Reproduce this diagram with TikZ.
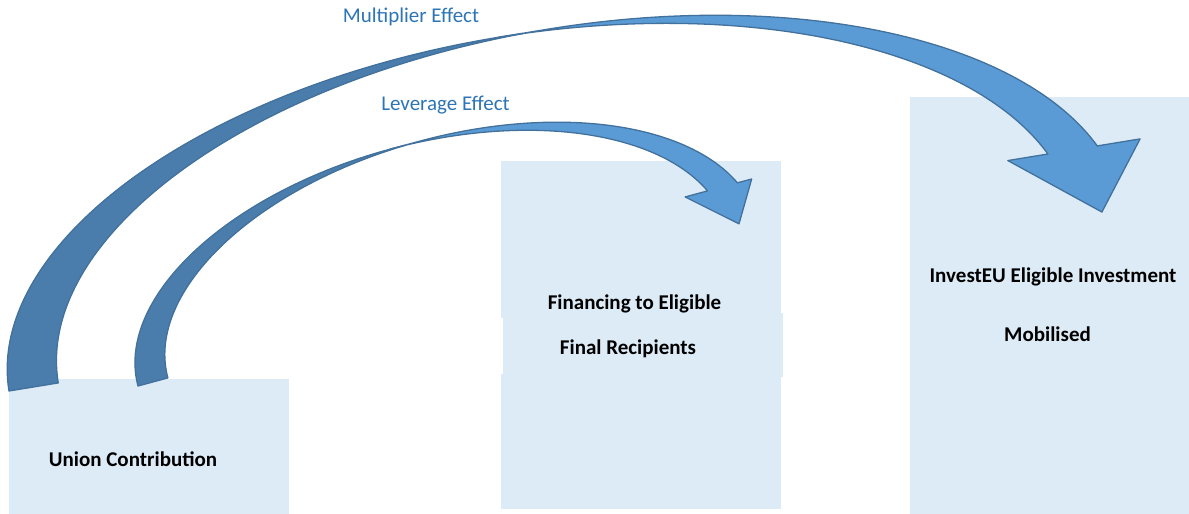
\documentclass[tikz,border=0pt]{standalone}
\usepackage{fontspec}
\setmainfont{Carlito}
\definecolor{boxfill}{HTML}{DDEBF7}
\definecolor{arrowfront}{HTML}{5B9BD5}
\definecolor{arrowback}{HTML}{4A7DAB}
\definecolor{arrowline}{HTML}{41719C}
\definecolor{labelblue}{HTML}{2E75B6}
\begin{document}
\begin{tikzpicture}[x=1pt,y=1pt,
  panel/.style={fill=boxfill, draw=none},
  frontface/.style={fill=arrowfront, draw=arrowline, line width=1.3pt, line join=round},
  backface/.style={fill=arrowback, draw=arrowline, line width=1.3pt, line join=round},
  boxtext/.style={font=\fontsize{21}{25}\selectfont\bfseries, anchor=base, inner sep=0pt},
  efftext/.style={font=\fontsize{21}{25}\selectfont, text=labelblue, anchor=base, inner sep=0pt}]
\useasboundingbox (0,0) rectangle (1189,514);
\fill[white] (0,0) rectangle (1189,514);

% panels
\fill[panel] (9,0) rectangle (289,135);
\fill[panel] (501,196) rectangle (781,353);
\fill[panel] (501,5) rectangle (781,140);
\fill[panel] (503,137) rectangle (783,201);
\fill[panel] (910,0) rectangle (1189,417);

% texts
\node[boxtext] (union) at (133,47) {Union Contribution};
\node[boxtext] (fin1) at (634.5,204) {Financing to Eligible};
\node[boxtext] (fin2) at (628,159) {Final Recipients};
\node[boxtext] (inv1) at (1053,231) {InvestEU Eligible Investment};
\node[boxtext] (inv2) at (1047.5,172) {Mobilised};
\node[efftext] (mult) at (411,491) {Multiplier Effect};
\node[efftext] (lev) at (445.5,403) {Leverage Effect};

% multiplier arrow
\begin{scope}[shift={(9,123)}, rotate=9.3]
  \path[frontface] (540,270) -- (590,270)
    arc[start angle=90, end angle=14.15, x radius=540, y radius=270]
    -- (1157,66) -- (1107.5,0) -- (1023,66) -- (1063.6,66)
    arc[start angle=14.15, end angle=90, x radius=540, y radius=270] -- cycle;
  \path[backface] (0,0)
    arc[start angle=180, end angle=87.35, x radius=540, y radius=270]
    arc[start angle=92.65, end angle=180, x radius=540, y radius=270] -- cycle;
\end{scope}

% leverage arrow
\begin{scope}[shift={(138,128)}, rotate=15.1]
  \path[frontface] (305,163) -- (336,163)
    arc[start angle=90, end angle=14.21, x radius=305, y radius=163]
    -- (646.4,40) -- (622.5,0) -- (577.5,40) -- (600.7,40)
    arc[start angle=14.21, end angle=90, x radius=305, y radius=163] -- cycle;
  \path[backface] (0,0)
    arc[start angle=180, end angle=87.09, x radius=305, y radius=163]
    arc[start angle=92.91, end angle=180, x radius=305, y radius=163] -- cycle;
\end{scope}
\end{tikzpicture}
\end{document}
